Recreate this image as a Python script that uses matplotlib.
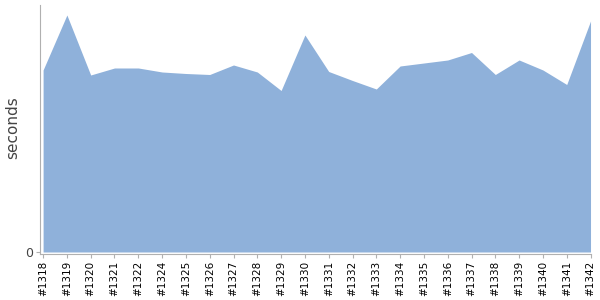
import matplotlib
matplotlib.use('Agg')
import matplotlib.pyplot as plt

# Build numbers on the x axis (#1323 is missing in the run)
builds = ['#1318', '#1319', '#1320', '#1321', '#1322', '#1324', '#1325', '#1326',
          '#1327', '#1328', '#1329', '#1330', '#1331', '#1332', '#1333', '#1334',
          '#1335', '#1336', '#1337', '#1338', '#1339', '#1340', '#1341', '#1342']

# Duration per build (seconds; axis has no scale besides 0)
durations = [182, 237, 177, 184, 184, 180, 178.5, 177.5,
             187, 180, 161.5, 217, 180.5, 171.5, 163, 186,
             189, 192, 199.5, 177.5, 192, 182, 167.5, 231]

fill_color = '#8fb1da'
axis_color = '#b0b0b0'

fig = plt.figure(figsize=(6, 3), dpi=100)
ax = fig.add_axes([40 / 600, 1 - 254 / 300, 551 / 600, 249 / 300])

x = list(range(len(builds)))
ax.fill_between(x, durations, 0, color=fill_color, linewidth=0)

ax.set_xlim(-0.13, len(builds) - 1 + 0.02)
ax.set_ylim(-2, 247)

ax.set_xticks(x)
ax.set_xticklabels(builds, rotation=90, fontsize=7.5)
ax.set_yticks([0])
ax.set_yticklabels(['0'], fontsize=9)
ax.tick_params(axis='both', colors=axis_color, length=3, width=0.8, pad=2)
ax.tick_params(axis='x', labelcolor='black')
ax.tick_params(axis='y', labelcolor='#444444')

for side in ['top', 'right']:
    ax.spines[side].set_visible(False)
for side in ['left', 'bottom']:
    ax.spines[side].set_color(axis_color)
    ax.spines[side].set_linewidth(0.8)

# y label placed in figure coordinates so it stays inside the canvas
fig.text(13 / 600, 1 - 127.5 / 300, 'seconds', rotation=90, fontsize=11,
         color='#444444', ha='center', va='center')

fig.savefig('out.png', dpi=100)
